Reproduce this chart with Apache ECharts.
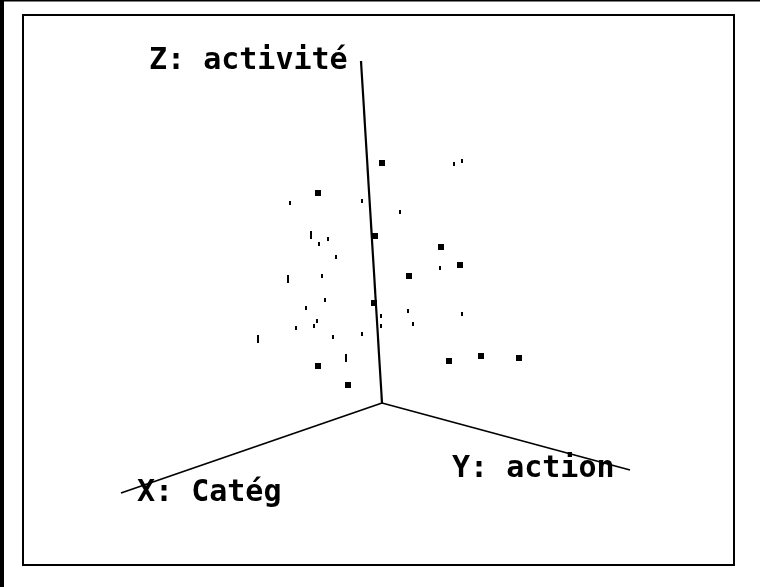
<!DOCTYPE html>
<html>
<head>
<meta charset="utf-8">
<script src="https://cdn.jsdelivr.net/npm/echarts@6/dist/echarts.min.js"></script>
<style>
  html, body { margin: 0; padding: 0; background: #fff; }
  #chart { width: 760px; height: 587px; }
</style>
</head>
<body>
<div id="chart"></div>
<script>
// projected plane: h = right of origin, v = up from origin (pixels of the original plot)
const axisNames = ['X: Catég', 'Y: action', 'Z: activité'];
const axisEnds = [[-261, -90], [248, -67], [-21, 342]];

// big square points
const bigPoints = [
  [0, 240], [-64, 210], [-64, 37], [-34, 18], [59, 156], [78, 138],
  [27, 127], [67, 42], [99, 47], [137, 45], [-7, 167], [-8, 100]
];
// small ticks
const smallPoints = [
  [-92, 200], [-20, 202], [-63, 159], [-54, 164], [-46, 146], [-60, 127],
  [-57, 103], [-76, 95], [-65, 82], [-68, 77], [-86, 75], [-49, 66],
  [-20, 69], [-1, 87], [-1, 77], [72, 239], [80, 242], [18, 191],
  [58, 135], [26, 92], [31, 79], [80, 89]
];
// tall ticks
const tallPoints = [[-71, 168], [-94, 124], [-124, 64], [-36, 45]];

const chart = echarts.init(document.getElementById('chart'));

const axisSeries = axisEnds.map((end, i) => ({
  type: 'line',
  name: axisNames[i],
  data: [[0, 0], end],
  symbol: 'none',
  silent: true,
  lineStyle: { color: '#000', width: i === 2 ? 2.2 : 1.8 },
  z: 1
}));

const labelFont = 'bold 30px "DejaVu Sans Mono", monospace';
const dotStyle = { color: '#000', opacity: 1 };

chart.setOption({
  backgroundColor: '#fff',
  animation: false,
  grid: { left: 0, right: 0, top: 0, bottom: 0 },
  xAxis: { type: 'value', min: -382, max: 378, show: false },
  yAxis: { type: 'value', min: -184, max: 403, show: false },
  graphic: [
    { type: 'rect', shape: { x: 0, y: 0, width: 4, height: 587 }, style: { fill: '#000' } },
    { type: 'rect', shape: { x: 0, y: 0, width: 760, height: 1.5 }, style: { fill: '#000' } },
    { type: 'rect', shape: { x: 23, y: 15, width: 711, height: 550 },
      style: { fill: 'none', stroke: '#000', lineWidth: 2 } },
    { type: 'text', x: 149, y: 61, style: { text: axisNames[2], font: labelFont, fill: '#000', verticalAlign: 'middle' }, z: 10 },
    { type: 'text', x: 452, y: 469, style: { text: axisNames[1], font: labelFont, fill: '#000', verticalAlign: 'middle' }, z: 10 },
    { type: 'text', x: 137, y: 493, style: { text: axisNames[0], font: labelFont, fill: '#000', verticalAlign: 'middle' }, z: 10 }
  ],
  series: axisSeries.concat([
    {
      type: 'scatter', name: 'grand', data: bigPoints,
      symbol: 'rect', symbolSize: [6, 6],
      itemStyle: dotStyle, z: 3
    },
    {
      type: 'scatter', name: 'petit', data: smallPoints,
      symbol: 'rect', symbolSize: [2, 4],
      itemStyle: dotStyle, z: 3
    },
    {
      type: 'scatter', name: 'long', data: tallPoints,
      symbol: 'rect', symbolSize: [2, 8],
      itemStyle: dotStyle, z: 3
    }
  ])
});
</script>
</body>
</html>
